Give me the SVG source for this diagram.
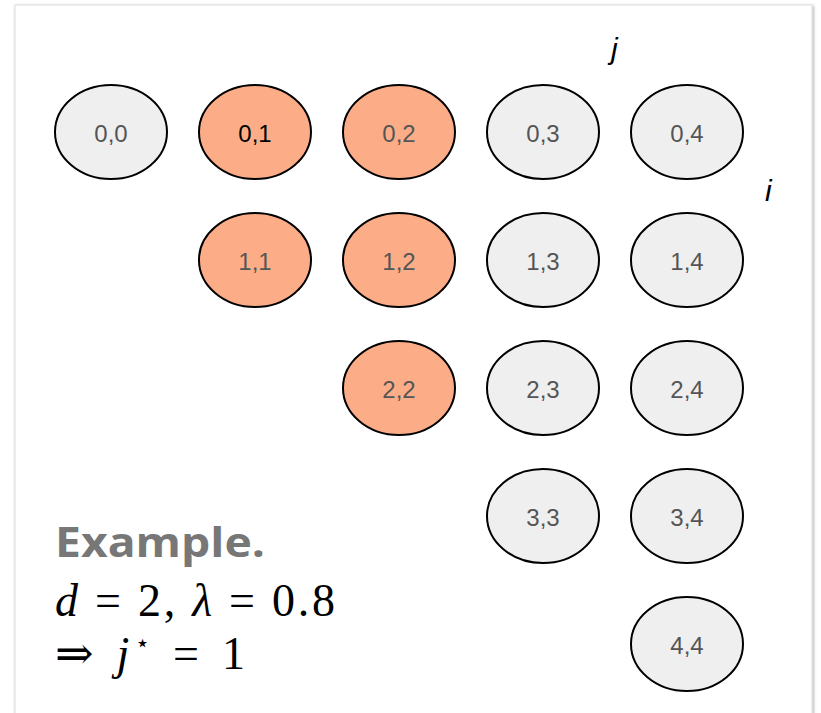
<svg xmlns="http://www.w3.org/2000/svg" width="821" height="713" viewBox="0 0 821 713">
<style>
.n ellipse{stroke:#000;stroke-width:2}
.g ellipse{fill:#efefef}
.o ellipse{fill:#fcad88}
.n text{font-family:"Liberation Sans",Arial,sans-serif;font-size:24px;fill:#555;text-anchor:middle;dominant-baseline:central}
.lbl{font-family:"Liberation Sans",sans-serif;font-style:italic;font-size:30px;fill:#000}
.m{font-family:"Liberation Serif","DejaVu Serif",serif;font-size:46px;fill:#000}
</style>
<defs>
<filter id="sh" x="-5%" y="-5%" width="110%" height="110%">
<feDropShadow dx="1" dy="1" stdDeviation="1.5" flood-color="#000" flood-opacity="0.35"/>
</filter>
</defs>
<rect x="15" y="5" width="797" height="720" fill="#fff" stroke="#ddd" stroke-width="1" filter="url(#sh)"/>
<g id="edges"></g>
<g id="n00" class="n g"><ellipse cx="111" cy="132" rx="56" ry="47"/><text x="111" y="133">0,0</text></g>
<g id="n01" class="n o"><ellipse cx="255" cy="132" rx="56" ry="47"/><text x="255" y="133" style="fill:#000">0,1</text></g>
<g id="n02" class="n o"><ellipse cx="399" cy="132" rx="56" ry="47"/><text x="399" y="133">0,2</text></g>
<g id="n03" class="n g"><ellipse cx="543" cy="132" rx="56" ry="47"/><text x="543" y="133">0,3</text></g>
<g id="n04" class="n g"><ellipse cx="687" cy="132" rx="56" ry="47"/><text x="687" y="133">0,4</text></g>
<g id="n11" class="n o"><ellipse cx="255" cy="260" rx="56" ry="47"/><text x="255" y="261">1,1</text></g>
<g id="n12" class="n o"><ellipse cx="399" cy="260" rx="56" ry="47"/><text x="399" y="261">1,2</text></g>
<g id="n13" class="n g"><ellipse cx="543" cy="260" rx="56" ry="47"/><text x="543" y="261">1,3</text></g>
<g id="n14" class="n g"><ellipse cx="687" cy="260" rx="56" ry="47"/><text x="687" y="261">1,4</text></g>
<g id="n22" class="n o"><ellipse cx="399" cy="388" rx="56" ry="47"/><text x="399" y="389">2,2</text></g>
<g id="n23" class="n g"><ellipse cx="543" cy="388" rx="56" ry="47"/><text x="543" y="389">2,3</text></g>
<g id="n24" class="n g"><ellipse cx="687" cy="388" rx="56" ry="47"/><text x="687" y="389">2,4</text></g>
<g id="n33" class="n g"><ellipse cx="543" cy="516" rx="56" ry="47"/><text x="543" y="517">3,3</text></g>
<g id="n34" class="n g"><ellipse cx="687" cy="516" rx="56" ry="47"/><text x="687" y="517">3,4</text></g>
<g id="n44" class="n g"><ellipse cx="687" cy="644" rx="56" ry="47"/><text x="687" y="645">4,4</text></g>
<text class="lbl" x="611" y="59">j</text>
<text class="lbl" x="765" y="201">i</text>
<text x="55" y="557" font-family="'Open Sans',Lato,sans-serif" font-weight="bold" font-size="42" fill="#777" textLength="210" lengthAdjust="spacingAndGlyphs">Example.</text>
<text class="m" x="55" y="616" textLength="280" lengthAdjust="spacing"><tspan font-style="italic">d</tspan> = 2, <tspan font-style="italic">λ</tspan> = 0.8</text>
<text class="m" x="55" y="669" textLength="190" lengthAdjust="spacing">⇒ <tspan font-style="italic">j</tspan><tspan font-size="24" dy="-18">⋆</tspan><tspan dy="18"> = 1</tspan></text>
</svg>
